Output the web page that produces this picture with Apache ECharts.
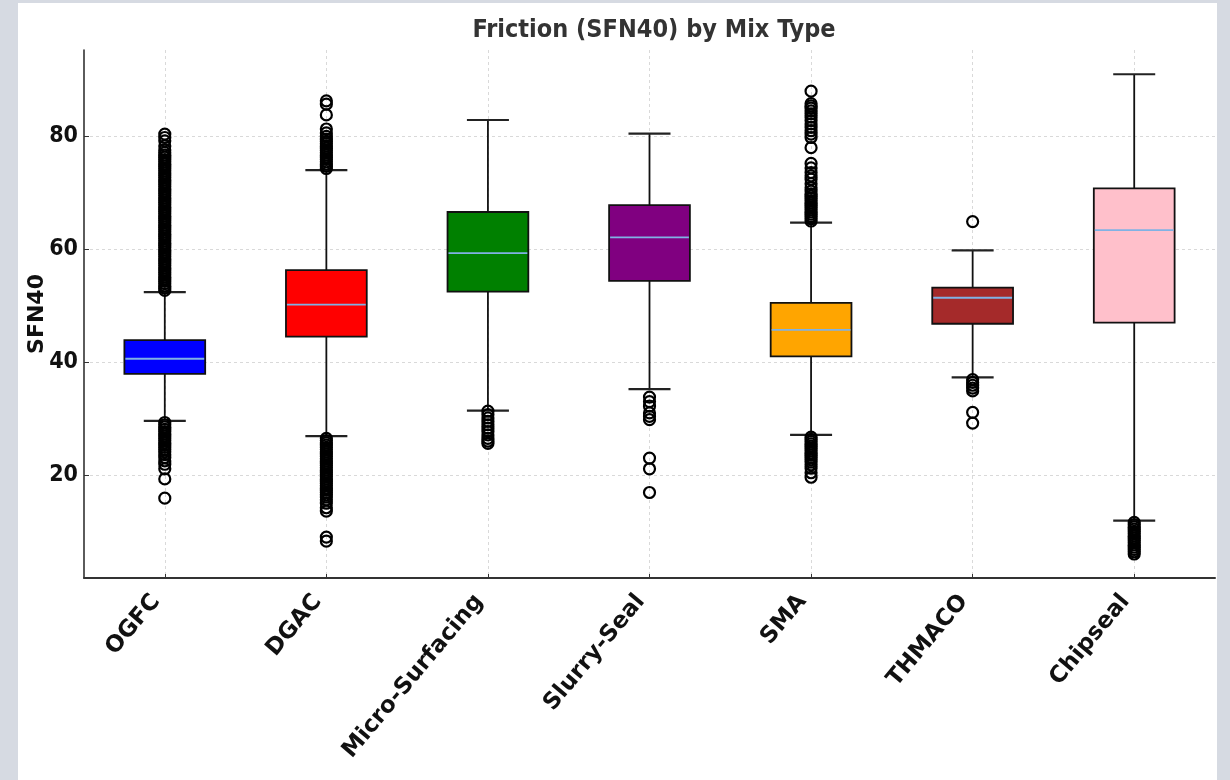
<!DOCTYPE html>
<html>
<head>
<meta charset="utf-8">
<script src="https://cdn.jsdelivr.net/npm/echarts@6/dist/echarts.min.js"></script>
<style>
html,body{margin:0;padding:0;width:1230px;height:780px;overflow:hidden;background:#d6dae2;}
#card{position:absolute;left:18px;top:3px;width:1199px;height:777px;background:#ffffff;}
#chart{position:absolute;left:0;top:0;width:1230px;height:780px;}
</style>
</head>
<body>
<div id="card"></div>
<div id="chart"></div>
<script>
// ---- data ----
const categories = ['OGFC', 'DGAC', 'Micro-Surfacing', 'Slurry-Seal', 'SMA', 'THMACO', 'Chipseal'];
const lowerWhisker = [29.6, 26.9, 31.4, 35.2, 27.1, 37.3, 11.9];
const q1 = [37.9, 44.5, 52.5, 54.4, 41.0, 46.8, 47.0];
const median = [40.6, 50.2, 59.3, 62.1, 45.7, 51.4, 63.4];
const q3 = [43.9, 56.3, 66.6, 67.8, 50.5, 53.2, 70.8];
const upperWhisker = [52.4, 74.0, 82.9, 80.5, 64.7, 59.8, 91.0];

const outliersOGFC = [52.7, 53.1, 53.5, 53.9, 54.3, 54.7, 55.1, 55.5, 55.9, 56.3, 56.7, 57.1, 57.5, 57.9, 58.3,
  58.7, 59.1, 59.5, 59.9, 60.3, 60.7, 61.1, 61.5, 61.9, 62.3, 62.7, 63.1, 63.5, 63.9, 64.3, 64.7, 65.1, 65.5,
  65.9, 66.3, 66.7, 67.1, 67.5, 67.9, 68.3, 68.7, 69.1, 69.5, 69.9, 70.3, 70.7, 71.1, 71.5, 71.9, 72.3, 72.7,
  73.1, 73.5, 73.9, 74.3, 74.7, 75.1, 75.5, 75.9, 76.3, 76.7, 77.1, 77.6, 78.3, 79.2, 79.8, 80.4,
  29.3, 28.9, 28.5, 28.1, 27.7, 27.3, 26.9, 26.5, 26.1, 25.7, 25.3, 24.9, 24.5, 24.1, 23.6, 23.1, 22.5, 21.9,
  21.1, 19.3, 15.9];
const outliersDGAC = [74.3, 74.7, 75.1, 75.5, 75.9, 76.3, 76.7, 77.1, 77.5, 77.9, 78.3, 78.7, 79.1, 79.5, 80.0,
  80.6, 81.3, 83.8, 85.7, 86.3,
  26.5, 26.1, 25.7, 25.3, 24.9, 24.5, 24.1, 23.7, 23.3, 22.9, 22.5, 22.1, 21.7, 21.3, 20.9, 20.5, 20.1, 19.7,
  19.3, 18.9, 18.5, 18.1, 17.7, 17.3, 16.9, 16.5, 16.1, 15.6, 15.0, 14.2, 13.6, 9.0, 8.3];
const outliersMicro = [31.3, 30.7, 30.1, 29.5, 28.9, 28.3, 27.7, 27.1, 26.5, 26.0, 25.6];
const outliersSlurry = [33.8, 33.0, 32.2, 31.0, 30.4, 29.8, 23.0, 21.1, 16.9];
const outliersSMA = [65.0, 65.4, 65.8, 66.2, 66.6, 67.0, 67.4, 67.8, 68.2, 68.6, 69.0, 69.4, 69.8, 70.3, 70.9,
  71.6, 72.4, 73.0, 73.6, 74.4, 75.2, 78.0, 79.8, 80.4, 81.0, 81.6, 82.2, 82.8, 83.4, 84.0, 84.5, 85.0, 85.4,
  85.8, 88.0,
  26.7, 26.3, 25.9, 25.5, 25.1, 24.7, 24.3, 23.9, 23.5, 23.1, 22.7, 22.3, 21.8, 21.2, 20.4, 19.6];
const outliersTHMACO = [64.9, 36.9, 36.4, 35.9, 35.4, 34.9, 31.1, 29.2];
const outliersChipseal = [11.6, 11.2, 10.8, 10.4, 10.0, 9.6, 9.2, 8.8, 8.4, 8.0, 7.6, 7.2, 6.8, 6.4, 6.0];

// ---- styles ----
const boxColors = ['#0000ff', '#ff0000', '#008000', '#800080', '#ffa500', '#a52a2a', '#ffc0cb'];

const outlierLists = [outliersOGFC, outliersDGAC, outliersMicro, outliersSlurry, outliersSMA, outliersTHMACO, outliersChipseal];
const boxData = categories.map((c, i) => [i, lowerWhisker[i], q1[i], median[i], q3[i], upperWhisker[i]]);
const outlierData = [];
outlierLists.forEach((arr, i) => arr.forEach(v => outlierData.push([i, v])));

function renderBox(params, api) {
  const i = api.value(0);
  const pLw = api.coord([i, api.value(1)]);
  const pQ1 = api.coord([i, api.value(2)]);
  const pMed = api.coord([i, api.value(3)]);
  const pQ3 = api.coord([i, api.value(4)]);
  const pUw = api.coord([i, api.value(5)]);
  const band = api.size([1, 0])[0];
  const bw = band * 0.5, cw = bw * 0.52;
  const x = pQ1[0];
  const ws = { stroke: '#111', lineWidth: 1.8 };
  const line = (x1, y1, x2, y2, style) => ({ type: 'line', shape: { x1, y1, x2, y2 }, style });
  return {
    type: 'group',
    children: [
      line(x, pLw[1], x, pQ1[1], ws),
      line(x, pQ3[1], x, pUw[1], ws),
      line(x - cw / 2, pLw[1], x + cw / 2, pLw[1], { stroke: '#222', lineWidth: 2.2 }),
      line(x - cw / 2, pUw[1], x + cw / 2, pUw[1], { stroke: '#222', lineWidth: 2.2 }),
      { type: 'rect', shape: { x: x - bw / 2, y: pQ3[1], width: bw, height: pQ1[1] - pQ3[1] },
        style: { fill: boxColors[i], stroke: '#111', lineWidth: 1.8 } },
      line(x - bw / 2 + 1, pMed[1], x + bw / 2 - 1, pMed[1], { stroke: '#80b2e4', lineWidth: 1.8 })
    ]
  };
}

const chart = echarts.init(document.getElementById('chart'), null, { renderer: 'canvas' });
chart.setOption({
  backgroundColor: 'transparent',
  animation: false,
  title: {
    text: 'Friction (SFN40) by Mix Type',
    left: 649, top: 13, textAlign: 'center',
    textStyle: { fontFamily: 'DejaVu Sans Condensed', fontWeight: 'bold', fontSize: 25, color: '#333333' }
  },
  grid: { left: 84, right: 15, top: 50, bottom: 202, outerBoundsMode: 'none', containLabel: false },
  xAxis: {
    type: 'category',
    data: categories,
    boundaryGap: true,
    axisLine: { show: true, lineStyle: { color: '#333333', width: 2 } },
    axisTick: { show: true, alignWithLabel: true, inside: true, length: 4, lineStyle: { color: '#333333' } },
    axisLabel: { interval: 0, rotate: 50, margin: 27, verticalAlign: 'bottom', fontFamily: 'DejaVu Sans', fontWeight: 'bold', fontSize: 23, color: '#111111' },
    splitLine: { show: true, alignWithLabel: true, lineStyle: { type: [3, 3], color: '#d9d9d9', width: 1 } }
  },
  yAxis: {
    type: 'value',
    min: 1.75, max: 95.3,
    name: 'SFN40', nameLocation: 'middle', nameGap: 36, nameMoveOverlap: false,
    nameTextStyle: { fontFamily: 'DejaVu Sans', fontWeight: 'bold', fontSize: 22, color: '#111111' },
    axisLine: { show: true, lineStyle: { color: '#333333', width: 1.6 } },
    axisTick: { show: true, inside: true, length: 5, lineStyle: { color: '#333333' } },
    axisLabel: { showMinLabel: false, showMaxLabel: false, margin: 6, fontFamily: 'DejaVu Sans Condensed', fontWeight: 'bold', fontSize: 23, color: '#111111' },
    splitLine: { show: true, showMinLine: false, showMaxLine: false, lineStyle: { type: [3, 3], color: '#d9d9d9', width: 1 } }
  },
  series: [
    {
      type: 'custom',
      renderItem: renderBox,
      encode: { x: 0, y: [1, 2, 3, 4, 5] },
      data: boxData,
      z: 2
    },
    {
      type: 'scatter',
      data: outlierData,
      symbol: 'circle',
      symbolSize: 11,
      itemStyle: { color: 'rgba(0,0,0,0)', borderColor: '#000000', borderWidth: 2.2, opacity: 1 },
      z: 3
    }
  ]
});
</script>
</body>
</html>
